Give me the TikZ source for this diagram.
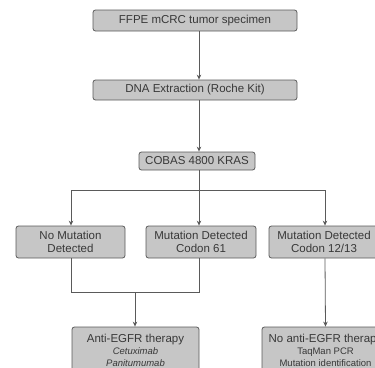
\documentclass[tikz,border=0pt]{standalone}
\usepackage{fontspec}
\setmainfont{Liberation Sans}
\usetikzlibrary{arrows.meta}
\definecolor{boxgray}{HTML}{C6C6C6}
\definecolor{edgegray}{HTML}{5A5A5A}
\definecolor{textgray}{HTML}{383838}
\begin{document}
\begin{tikzpicture}[x=1pt,y=-1pt,
  box/.style={draw=edgegray,fill=boxgray,rounded corners=2.5pt,line width=0.8pt,
    text=textgray,font=\fontsize{11.5}{13}\selectfont,inner sep=0pt,align=center},
  small/.style={font=\fontsize{9.5}{11}\selectfont},
  arr/.style={draw=edgegray,line width=0.8pt,-{Stealth[length=5pt,width=4.5pt]}},
  link/.style={draw=edgegray,line width=0.8pt}]
\useasboundingbox (0,0) rectangle (375,367);
\clip (0,0) rectangle (375,367);
% top of the chart
\node[box,minimum width=204,minimum height=21] (spec) at (195,20.5) {FFPE mCRC tumor specimen};
\node[box,minimum width=204,minimum height=20] (dna) at (195,90) {DNA Extraction (Roche Kit)};
\node[box,minimum width=116,minimum height=18] (cobas) at (197,161) {COBAS 4800 KRAS};
% results of the test
\node[box,minimum width=109,minimum height=32] (nomut) at (70.5,242) {No Mutation\\Detected};
\node[box,minimum width=110,minimum height=32] (cod61) at (201,242) {Mutation Detected\\Codon 61};
\node[box,minimum width=110,minimum height=32] (cod1213) at (324,242) {Mutation Detected\\Codon 12/13};
% therapy
\node[box,minimum width=127,minimum height=46] (anti) at (135.5,350) {Anti-EGFR therapy\\[-1pt]
  {\fontsize{9.5}{11}\selectfont\itshape Cetuximab}\\[-1pt]{\fontsize{9.5}{11}\selectfont\itshape Panitumumab}};
\node[box,minimum width=127,minimum height=46] (noanti) at (325.5,350) {No anti-EGFR therapy\\[-1pt]
  {\fontsize{9.5}{11}\selectfont TaqMan PCR}\\[-1pt]{\fontsize{9.5}{11}\selectfont Mutation identification}};
\coordinate (axis) at (199,0);
\coordinate (split) at (199,190);
\coordinate (merge) at (135,292);
\draw[arr] (spec.south -| axis) -- (dna.north -| axis);
\draw[arr] (dna.south -| axis) -- (cobas.north -| axis);
\draw[link] (cobas.south -| axis) -- (split);
\draw[arr] (split) -| ([xshift=0.5]nomut.north);
\draw[arr] (split) -- (cod61.north -| axis);
\draw[arr] (split) -| ([xshift=1]cod1213.north);
\draw[link] ([xshift=0.5]nomut.south) |- (merge);
\draw[link] (cod61.south -| axis) |- (merge);
\draw[arr] (merge) -- (anti.north -| merge);
\draw[arr] ([xshift=1]cod1213.south) -- (noanti.north -| noanti);
\end{tikzpicture}
\end{document}
